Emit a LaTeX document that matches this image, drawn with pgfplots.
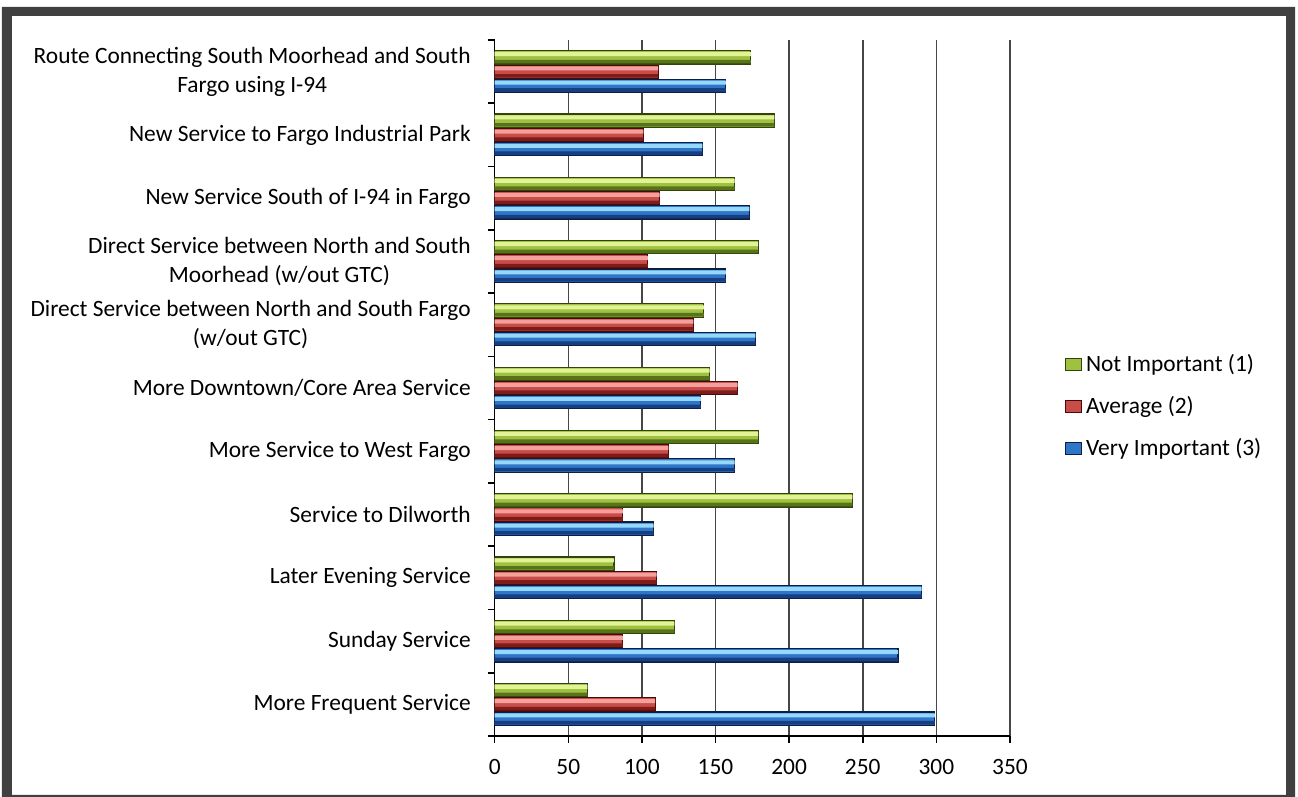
\documentclass[border=0pt]{standalone}
\usepackage{fontspec}
\setmainfont{Carlito}
\usepackage{pgfplots}
\pgfplotsset{compat=1.18}

\definecolor{frame}{RGB}{64,64,64}
\definecolor{gridc}{RGB}{70,70,70}
\definecolor{gLight}{RGB}{226,242,150}
\definecolor{gMid}{RGB}{160,192,66}
\definecolor{gDark}{RGB}{88,116,26}
\definecolor{gEdge}{RGB}{50,68,12}
\definecolor{rLight}{RGB}{244,160,156}
\definecolor{rMid}{RGB}{200,76,72}
\definecolor{rDark}{RGB}{126,28,26}
\definecolor{rEdge}{RGB}{70,10,10}
\definecolor{bLight}{RGB}{150,215,252}
\definecolor{bMid}{RGB}{48,118,200}
\definecolor{bDark}{RGB}{22,62,128}
\definecolor{bEdge}{RGB}{10,30,70}

% values per category, bottom (0) to top (10)
\pgfplotstableread{
y notimp avg veryimp
0  63 109 299
1 122  87 274
2  81 110 290
3 243  87 108
4 179 118 163
5 146 165 140
6 142 135 177
7 179 104 157
8 163 112 173
9 190 101 141
10 174 111 157
}\ratings

\begin{document}
\fontsize{11.7}{14.5}\selectfont
\begin{tikzpicture}
\begin{axis}[
    scale only axis, width=257.65pt, height=348pt,
    xbar, bar width=6.65pt,
    xmin=0, xmax=350, ymin=-0.5, ymax=10.5,
    axis x line*=bottom, axis y line*=left,
    axis line style={black, line width=0.8pt},
    xtick={0,50,...,350},
    xmajorgrids, grid style={gridc, line width=0.8pt},
    tick align=outside, major tick length=3.5pt,
    tick style={black, line width=0.8pt},
    ytick={-0.5,0.5,...,10.5}, yticklabels={},
    extra y ticks={0,...,10},
    extra y tick style={major tick length=0pt},
    extra y tick labels={
        More Frequent Service,
        Sunday Service,
        Later Evening Service,
        Service to Dilworth,
        More Service to West Fargo,
        More Downtown/Core Area Service,
        {Direct Service between North and South Fargo\\(w/out GTC)},
        {Direct Service between North and South\\Moorhead (w/out GTC)},
        New Service South of I-94 in Fargo,
        New Service to Fargo Industrial Park,
        {Route Connecting South Moorhead and South\\Fargo using I-94}},
    yticklabel style={align=center, inner sep=0pt, xshift=-11.8pt},
    xticklabel style={yshift=-4pt},
    /pgf/number format/assume math mode=true,
    reverse legend,
    legend style={at={(1.094,0.561)}, anchor=north west, draw=none, fill=none,
        row sep=6.75pt, font=\fontsize{11.7}{14}\selectfont},
    legend cell align=left,
    legend image code/.code={\draw[#1] (0pt,-3pt) rectangle (8pt,3pt);},
]
% Very Important (3)
\addplot[bar shift=-7.1pt, draw=bEdge, line width=0.6pt, fill=bMid]
    table[x=veryimp, y=y] {\ratings};
\addplot[forget plot, bar shift=-5.5pt, bar width=2pt, draw=none, fill=bLight]
    table[x=veryimp, y=y] {\ratings};
\addplot[forget plot, bar shift=-9.2pt, bar width=1.8pt, draw=none, fill=bDark]
    table[x=veryimp, y=y] {\ratings};
% Average (2)
\addplot[bar shift=0pt, draw=rEdge, line width=0.6pt, fill=rMid]
    table[x=avg, y=y] {\ratings};
\addplot[forget plot, bar shift=1.6pt, bar width=2pt, draw=none, fill=rLight]
    table[x=avg, y=y] {\ratings};
\addplot[forget plot, bar shift=-2.1pt, bar width=1.8pt, draw=none, fill=rDark]
    table[x=avg, y=y] {\ratings};
% Not Important (1)
\addplot[bar shift=7.1pt, draw=gEdge, line width=0.6pt, fill=gMid]
    table[x=notimp, y=y] {\ratings};
\addplot[forget plot, bar shift=8.7pt, bar width=2pt, draw=none, fill=gLight]
    table[x=notimp, y=y] {\ratings};
\addplot[forget plot, bar shift=5.0pt, bar width=1.8pt, draw=none, fill=gDark]
    table[x=notimp, y=y] {\ratings};
\legend{Very Important (3), Average (2), Not Important (1)}
\end{axis}
\begin{scope}[x=1pt, y=1pt, shift={(-247.35pt,-30.5pt)}]
\pgfresetboundingbox
\useasboundingbox (0,0) rectangle (649,398.5);
\fill[frame, even odd rule] (1,-5) rectangle (647.5,395) (6,1) rectangle (643,390.5);
\end{scope}
\end{tikzpicture}
\end{document}
